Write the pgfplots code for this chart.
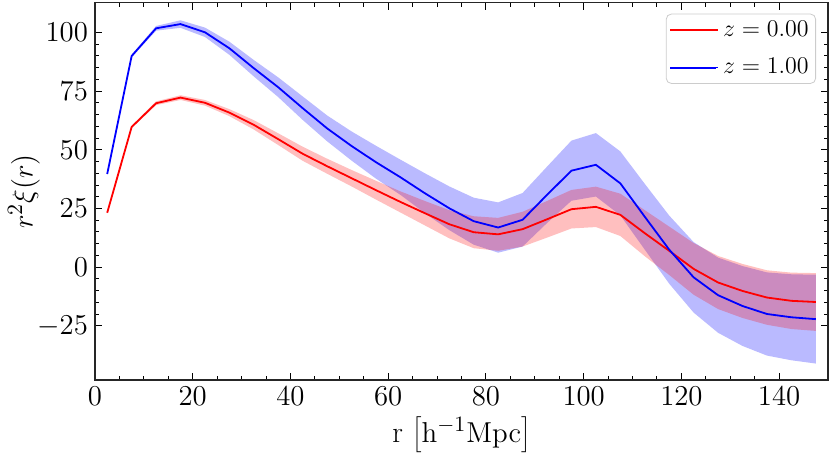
\documentclass[border=0pt]{standalone}
\usepackage{pgfplots}
\pgfplotsset{compat=1.18}
\usepackage{pgfplotstable}
\usepgfplotslibrary{fillbetween}

\pgfplotstableread{
x r rh b bh
2.5 23.2 0.3 39.7 0.3
7.5 59.7 0.5 89.9 0.6
12.5 69.8 0.8 101.7 1.0
17.5 72.2 1.0 103.5 1.6
22.5 70.0 1.2 100.0 2.0
27.5 65.8 1.5 93.2 2.8
32.5 60.6 2.0 84.7 3.5
37.5 54.5 2.5 76.6 4.2
42.5 48.3 3.0 67.7 5.0
47.5 43.0 3.2 59.1 5.5
52.5 37.9 3.5 51.6 6.2
57.5 32.8 4.0 44.7 7.0
62.5 27.8 4.5 38.3 7.5
67.5 23.0 5.2 31.5 8.5
72.5 18.3 6.0 25.1 9.3
77.5 14.9 6.8 19.6 10.0
82.5 14.0 7.0 16.9 10.7
87.5 16.2 7.4 20.2 11.4
92.5 20.4 7.8 30.8 12.0
97.5 24.7 8.2 41.1 12.8
102.5 25.7 8.6 43.6 13.5
107.5 22.3 9.0 35.7 13.6
112.5 14.5 9.8 21.5 14.0
117.5 7.0 10.3 7.5 14.5
122.5 -0.7 11.0 -4.3 15.0
127.5 -6.5 11.3 -11.9 16.0
132.5 -10.1 11.5 -16.5 17.0
137.5 -12.9 11.6 -19.9 17.7
142.5 -14.3 12.0 -21.3 18.3
147.5 -14.8 12.3 -22.1 18.9
}\data

\begin{document}
\begin{tikzpicture}
\begin{axis}[
  scale only axis,
  width=366.5pt, height=188.65pt,
  xmin=0, xmax=150, ymin=-48, ymax=112.6,
  xtick={0,20,...,140}, ytick={-25,0,25,50,75,100},
  minor x tick num=3, minor y tick num=4,
  tick align=inside,
  xtick pos=both, ytick pos=both,
  xticklabel pos=lower, yticklabel pos=left,
  major tick length=3.5pt, minor tick length=2pt,
  every tick/.style={black, line width=0.5pt},
  axis line style={black!85, line width=0.6pt},
  tick label style={font=\fontsize{13.5}{16}\selectfont},
  label style={font=\fontsize{15}{18}\selectfont},
  xlabel={r $\left[\mathrm{h^{-1}Mpc}\right]$},
  ylabel={$r^2\xi(r)$},
  x label style={at={(axis description cs:0.5,-0.1458)}, anchor=center},
  y label style={at={(axis description cs:-0.0969,0.5)}, anchor=center},
  legend style={at={(rel axis cs:1,1)}, anchor=north east, xshift=-6pt, yshift=-5.5pt,
    draw=black!20, rounded corners=2.5pt, fill=white,
    font=\fontsize{12}{14.4}\selectfont, row sep=5.6pt, inner xsep=1.5pt, inner ysep=1.3pt},
  legend cell align=left,
  legend image code/.code={\draw[#1, line width=1.05pt] (0pt,0pt) -- (23pt,0pt);
    \path (0pt,0pt) -- (24pt,0pt);},
]
\coordinate (bl) at (rel axis cs:0,0);
\coordinate (tr) at (rel axis cs:1,1);
\addplot[name path=bu, draw=none, forget plot] table[x=x, y expr=\thisrow{b}+\thisrow{bh}]{\data};
\addplot[name path=bl, draw=none, forget plot] table[x=x, y expr=\thisrow{b}-\thisrow{bh}]{\data};
\addplot[fill=blue, fill opacity=0.27, draw=none, forget plot] fill between[of=bu and bl];
\addplot[name path=ru, draw=none, forget plot] table[x=x, y expr=\thisrow{r}+\thisrow{rh}]{\data};
\addplot[name path=rl, draw=none, forget plot] table[x=x, y expr=\thisrow{r}-\thisrow{rh}]{\data};
\addplot[fill=red, fill opacity=0.25, draw=none, forget plot] fill between[of=ru and rl];
\addplot[red, line width=0.9pt] table[x=x, y=r]{\data};
\addlegendentry{$z = 0.00$}
\addplot[blue, line width=0.9pt] table[x=x, y=b]{\data};
\addlegendentry{$z = 1.00$}
\end{axis}
\pgfresetboundingbox
\path ([xshift=-47.5pt,yshift=-37.5pt]bl) rectangle ([xshift=1.5pt,yshift=1.35pt]tr);
\end{tikzpicture}
\end{document}
